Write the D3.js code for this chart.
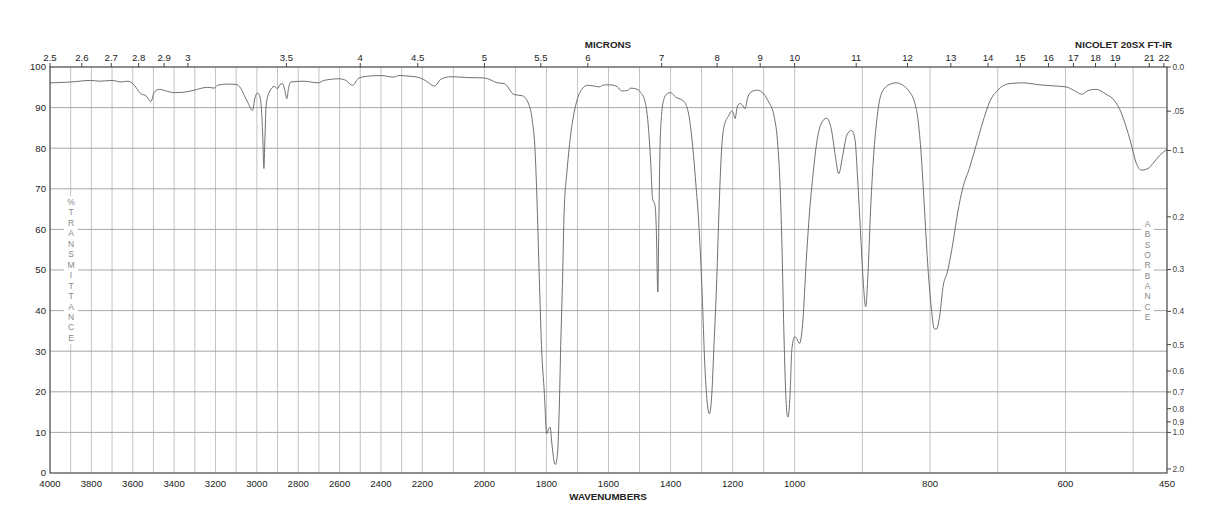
<!DOCTYPE html>
<meta charset="utf-8">
<script src="https://d3js.org/d3.v7.min.js"></script>
<style>
  body { margin: 0; background: #fff; }
  text { font-family: "Liberation Sans", Arial, Helvetica, sans-serif; }
</style>
<body>
<div id="chart"></div>
<script>
// spectrum: wavenumber (cm-1) and % transmittance
var wavenumbers = [4000, 3900, 3802, 3760, 3700, 3657, 3625, 3600, 3560, 3536, 3512, 3496, 3472, 3432, 3403, 3351, 3303, 3238, 3206, 3190, 3142, 3101,
  3077, 3061, 3045, 3021, 3010, 2997, 2987, 2977, 2971, 2966, 2961, 2955, 2940, 2916, 2900, 2889, 2876, 2865, 2855, 2847, 2836, 2771,
  2739, 2702, 2675, 2601, 2570, 2538, 2506, 2449, 2401, 2337, 2313, 2256, 2224, 2200,
  2183, 2161, 2140, 2108, 2054, 2000, 1957, 1936, 1904, 1877, 1856, 1845, 1837, 1831, 1823, 1816, 1807, 1799, 1793, 1788, 1783,
  1775, 1771, 1764, 1759, 1754, 1748, 1743, 1734, 1727, 1716, 1700, 1684, 1668, 1646, 1630, 1614, 1593, 1571, 1558, 1539, 1528,
  1507, 1496, 1485, 1475, 1464, 1458, 1450, 1446, 1441, 1438, 1434, 1429, 1421, 1411, 1400, 1384, 1362, 1352, 1341, 1330, 1319,
  1308, 1298, 1290, 1282, 1275, 1268, 1260, 1251, 1244, 1236, 1228, 1212, 1204, 1199, 1192, 1185, 1176, 1168, 1160, 1151, 1137,
  1121, 1100, 1084, 1067, 1056, 1048, 1041, 1035, 1029, 1024, 1021, 1015, 1009, 1000,
  997, 993, 988, 983, 978, 973, 968, 961, 953, 946, 940, 935, 929, 923, 916, 911, 907, 903, 899, 895, 892, 888, 884, 879, 872,
  862, 850, 840, 830, 823, 818, 813, 808, 803, 798, 794, 791, 786, 781, 774, 766, 759, 752, 742, 732, 722, 712, 700, 683, 663,
  638, 614, 599, 585, 576, 565, 555, 540, 528, 518, 511, 503, 496, 488, 478, 471, 461, 450];
var transmittance = [96.1, 96.3, 96.7, 96.5, 96.7, 96.3, 96.5, 95.9, 93.4, 92.9, 91.5, 93.8, 94.5, 94.0, 93.7, 93.8, 94.3, 95.0, 94.8, 95.5, 95.8, 95.7,
  94.7, 93.0, 91.4, 89.3, 92.2, 93.6, 93.0, 88.9, 82.3, 75.0, 82.3, 90.6, 93.8, 95.2, 94.7, 95.6, 95.9, 94.3, 92.2, 94.7, 96.3, 96.5,
  96.3, 96.1, 96.7, 97.1, 96.7, 95.5, 97.3, 97.8, 97.9, 97.5, 97.9, 97.7, 97.5, 97.1,
  96.3, 95.3, 97.0, 97.6, 97.4, 97.3, 96.1, 95.9, 93.2, 92.9, 90.6, 86.5, 79.9, 68.4, 47.9, 31.4, 20.0, 9.7, 10.9, 11.3, 7.6,
  2.7, 2.1, 5.2, 15.0, 31.4, 47.9, 64.3, 74.1, 79.9, 86.5, 92.2, 94.7, 95.5, 95.3, 95.1, 95.6, 95.6, 95.1, 94.1, 94.2, 94.8,
  94.5, 93.7, 92.2, 88.1, 76.6, 67.6, 65.9, 60.2, 44.6, 60.2, 79.9, 88.1, 92.2, 93.4, 93.7, 92.6, 91.8, 91.0, 88.1, 81.5, 71.7,
  60.2, 43.8, 27.3, 17.5, 14.6, 18.3, 31.4, 47.9, 64.3, 79.1, 85.2, 88.1, 89.1, 88.9, 87.3, 90.2, 91.0, 90.6, 89.7, 92.6, 94.0,
  94.3, 93.4, 91.4, 88.1, 82.3, 72.5, 56.1, 35.5, 20.0, 14.2, 13.8, 19.1, 30.5, 33.5,
  33.1, 31.9, 37.2, 52.0, 64.3, 73.3, 80.7, 86.0, 87.4, 84.8, 78.2, 73.7, 78.2, 83.2, 84.4, 82.3, 72.5, 60.2, 47.9, 40.9, 47.9, 64.3, 76.6, 86.5, 93.4,
  95.5, 96.1, 95.5, 93.8, 91.4, 87.3, 78.2, 64.3, 50.3, 40.5, 35.6, 35.4, 38.4, 45.7, 49.8, 56.9, 64.3, 70.0, 75.0, 80.7, 86.5, 91.4, 94.3, 95.9, 96.1,
  95.6, 95.3, 95.1, 94.0, 93.3, 94.3, 94.5, 93.3, 91.8, 88.9, 85.6, 81.1, 76.6, 74.6, 75.0, 76.2, 78.2, 79.7];

var wnLabels = [4000, 3800, 3600, 3400, 3200, 3000, 2800, 2600, 2400, 2200, 2000, 1800, 1600, 1400, 1200, 1000, 800, 600, 450];
var micronLabels = [2.5, 2.6, 2.7, 2.8, 2.9, 3, 3.5, 4, 4.5, 5, 5.5, 6, 7, 8, 9, 10, 11, 12, 13, 14, 15, 16, 17, 18, 19, 21, 22];
var pctLabels = [0, 10, 20, 30, 40, 50, 60, 70, 80, 90, 100];
var absValues = [0, 0.05, 0.1, 0.2, 0.3, 0.4, 0.5, 0.6, 0.7, 0.8, 0.9, 1.0, 2.0];
var absLabels = ["0.0", ".05", "0.1", "0.2", "0.3", "0.4", "0.5", "0.6", "0.7", "0.8", "0.9", "1.0", "2.0"];

var W = 1218, H = 528;
var pl = 50, pr = 1167, pt = 67, pb = 473;

var svg = d3.select("#chart").append("svg")
    .attr("width", W)
    .attr("height", H);

svg.append("rect").attr("width", W).attr("height", H).attr("fill", "#fff");

// three equal panels: 4000-2200, 2200-1000, 1000-450
var third = (pr - pl) / 3;
var x = d3.scaleLinear()
    .domain([4000, 2200, 1000, 450])
    .range([pl, pl + third, pl + 2 * third, pr]);

var y = d3.scaleLinear()
    .domain([0, 100])
    .range([pb, pt]);

// grid
var grid = svg.append("g");
grid.selectAll(".vg")
  .data(d3.range(500, 4000, 100))
  .enter().append("line")
    .attr("x1", function(d) { return x(d); })
    .attr("x2", function(d) { return x(d); })
    .attr("y1", pt).attr("y2", pb)
    .attr("stroke", "#c4c4c4").attr("stroke-width", 1);

grid.selectAll(".hg")
  .data(pctLabels.slice(1, 10))
  .enter().append("line")
    .attr("x1", pl).attr("x2", pr)
    .attr("y1", function(d) { return y(d); })
    .attr("y2", function(d) { return y(d); })
    .attr("stroke", "#a8a8a8").attr("stroke-width", 1);

// vertical axis captions with white backing
function stacked(word, cx, y0, step, box) {
  svg.append("rect")
    .attr("x", cx - box[0]).attr("y", box[1])
    .attr("width", box[0] * 2).attr("height", box[2])
    .attr("fill", "#fff");
  svg.append("g").selectAll("text")
    .data(word.split(""))
    .enter().append("text")
      .attr("x", cx)
      .attr("y", function(d, i) { return y0 + i * step; })
      .attr("dy", "0.35em")
      .attr("text-anchor", "middle")
      .attr("font-size", "8.5px")
      .attr("fill", "#888")
      .text(function(d) { return d; });
}
stacked("%TRANSMITTANCE", 71, 202, 10.46, [7, 196, 148]);
stacked("ABSORBANCE", 1147.5, 224, 10.33, [6.5, 218, 104]);

// spectrum
var pts = wavenumbers.map(function(w, i) { return [w, transmittance[i]]; });
var line = d3.line()
    .x(function(d) { return x(d[0]); })
    .y(function(d) { return y(d[1]); })
    .curve(d3.curveMonotoneX);

svg.append("path")
    .datum(pts)
    .attr("d", line)
    .attr("fill", "none")
    .attr("stroke", "#606060")
    .attr("stroke-width", 0.9);

// frame
svg.append("rect")
    .attr("x", pl).attr("y", pt)
    .attr("width", pr - pl).attr("height", pb - pt)
    .attr("fill", "none")
    .attr("stroke", "#444").attr("stroke-width", 1.2);

// bottom wavenumber labels
svg.append("g").selectAll("text")
  .data(wnLabels)
  .enter().append("text")
    .attr("x", function(d) { return x(d); })
    .attr("y", 483.5)
    .attr("dy", "0.35em")
    .attr("text-anchor", "middle")
    .attr("font-size", "9.6px")
    .attr("fill", "#222")
    .text(function(d) { return d; });

svg.append("text")
    .attr("x", 608).attr("y", 497)
    .attr("dy", "0.35em")
    .attr("text-anchor", "middle")
    .attr("font-size", "9.8px")
    .attr("font-weight", "bold")
    .attr("fill", "#222")
    .text("WAVENUMBERS");

// top micron scale
var mic = svg.append("g");
mic.selectAll("line")
  .data(micronLabels)
  .enter().append("line")
    .attr("x1", function(d) { return x(10000 / d); })
    .attr("x2", function(d) { return x(10000 / d); })
    .attr("y1", pt).attr("y2", pt - 4)
    .attr("stroke", "#444");
mic.selectAll("text")
  .data(micronLabels)
  .enter().append("text")
    .attr("x", function(d) { return x(10000 / d); })
    .attr("y", 58)
    .attr("dy", "0.35em")
    .attr("text-anchor", "middle")
    .attr("font-size", "9.6px")
    .attr("fill", "#222")
    .text(function(d) { return d; });

svg.append("text")
    .attr("x", 608).attr("y", 45)
    .attr("dy", "0.35em")
    .attr("text-anchor", "middle")
    .attr("font-size", "9.8px")
    .attr("font-weight", "bold")
    .attr("fill", "#222")
    .text("MICRONS");

svg.append("text")
    .attr("x", 1172).attr("y", 45)
    .attr("dy", "0.35em")
    .attr("text-anchor", "end")
    .attr("font-size", "9.8px")
    .attr("font-weight", "bold")
    .attr("fill", "#222")
    .text("NICOLET 20SX FT-IR");

// left % transmittance labels
svg.append("g").selectAll("text")
  .data(pctLabels)
  .enter().append("text")
    .attr("x", 46)
    .attr("y", function(d) { return y(d); })
    .attr("dy", "0.35em")
    .attr("text-anchor", "end")
    .attr("font-size", "9.6px")
    .attr("fill", "#222")
    .text(function(d) { return d; });

// right absorbance scale
var ab = svg.append("g");
ab.selectAll("line")
  .data(absValues)
  .enter().append("line")
    .attr("x1", pr).attr("x2", pr + 4)
    .attr("y1", function(d) { return y(100 * Math.pow(10, -d)); })
    .attr("y2", function(d) { return y(100 * Math.pow(10, -d)); })
    .attr("stroke", "#444");
ab.selectAll("text")
  .data(absValues)
  .enter().append("text")
    .attr("x", pr + 5.5)
    .attr("y", function(d) { return y(100 * Math.pow(10, -d)); })
    .attr("dy", "0.35em")
    .attr("font-size", "8.4px")
    .attr("fill", "#444")
    .text(function(d, i) { return absLabels[i]; });
</script>
</body>
